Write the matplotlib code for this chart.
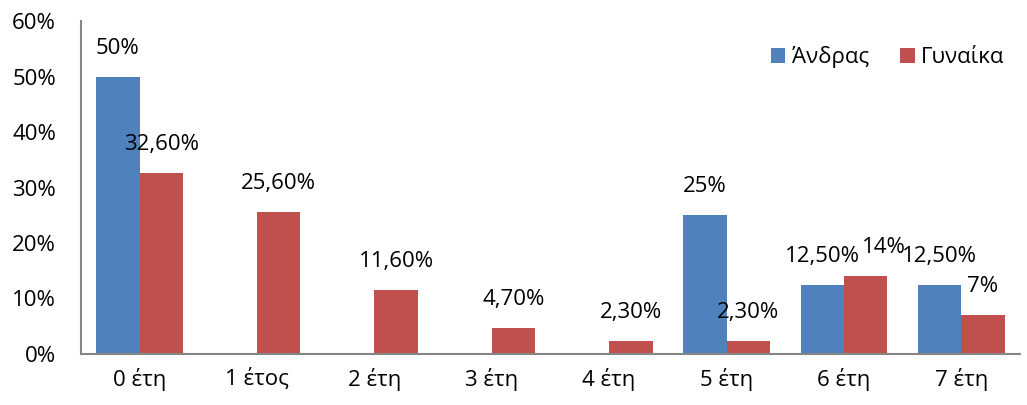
import numpy as np
import matplotlib.pyplot as plt

plt.rcParams['font.family'] = ['Open Sans', 'DejaVu Sans']

# data
categories = ["0 έτη", "1 έτος", "2 έτη", "3 έτη", "4 έτη", "5 έτη", "6 έτη", "7 έτη"]
men = [50, 0, 0, 0, 0, 25, 12.5, 12.5]
women = [32.6, 25.6, 11.6, 4.7, 2.3, 2.3, 14, 7]
men_labels = ["50%", "", "", "", "", "25%", "12,50%", "12,50%"]
women_labels = ["32,60%", "25,60%", "11,60%", "4,70%", "2,30%", "2,30%", "14%", "7%"]
yticks = [0, 10, 20, 30, 40, 50, 60]

blue = "#4F81BD"
red = "#C0504D"
axis_gray = "#868686"
fs = 16

fig = plt.figure(figsize=(10.27, 4.05), dpi=100)
ax = fig.add_axes([81 / 1027, 1 - 354 / 405, 939 / 1027, 333 / 405])

x = np.arange(len(categories))
w = 0.37
ax.bar(x - w / 2, men, w, color=blue, label="Άνδρας")
ax.bar(x + w / 2, women, w, color=red, label="Γυναίκα")

for xi, v, lab in zip(x - w / 2, men, men_labels):
    if lab:
        ax.annotate(lab, (xi, v), xytext=(0, 18), textcoords="offset pixels",
                    ha="center", va="bottom", fontsize=fs)
for i, (xi, v, lab) in enumerate(zip(x + w / 2, women, women_labels)):
    # Excel nudged the "14%" label right so it clears "12,50%"
    dx = 18 if i == 6 else 0
    ax.annotate(lab, (xi, v), xytext=(dx, 18), textcoords="offset pixels",
                ha="center", va="bottom", fontsize=fs)

ax.set_xlim(-0.5, len(categories) - 0.5)
ax.set_ylim(0, 60)
ax.set_yticks(yticks)
ax.set_yticklabels([f"{t}%" for t in yticks], fontsize=fs)
ax.set_xticks(x)
ax.set_xticklabels(categories, fontsize=fs)
ax.tick_params(axis="x", length=0, pad=10)
ax.tick_params(axis="y", length=0, pad=18)

for s in ["top", "right"]:
    ax.spines[s].set_visible(False)
for s in ["left", "bottom"]:
    ax.spines[s].set_color(axis_gray)
    ax.spines[s].set_linewidth(1.5)

ax.legend(loc="upper right", bbox_to_anchor=(1.005, 0.985), ncol=2, frameon=False,
          fontsize=fs, handlelength=0.65, handleheight=0.65, handletextpad=0.3,
          columnspacing=1.4)

fig.savefig("out.png", dpi=100)
